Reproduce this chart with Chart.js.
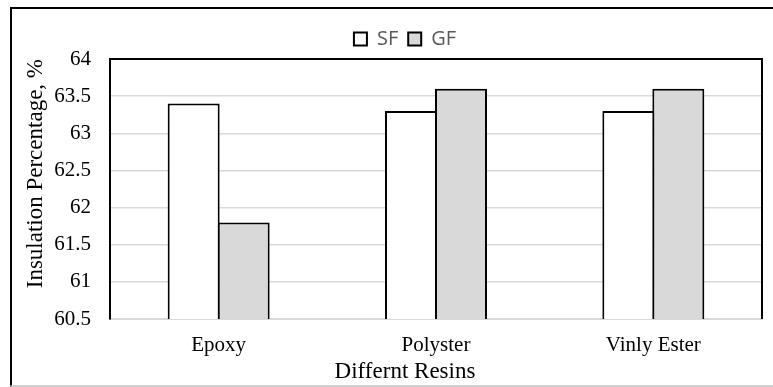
<!DOCTYPE html>
<html>
<head>
<meta charset="utf-8">
<script src="https://cdn.jsdelivr.net/npm/chart.js@4/dist/chart.umd.min.js"></script>
<style>
  html, body { margin: 0; padding: 0; background: #ffffff; }
  #wrap { width: 773px; height: 387px; position: relative; }
</style>
</head>
<body>
<div id="wrap"><canvas id="chart" width="773" height="387"></canvas></div>
<script>
// Insulation percentage by resin type, for SF and GF reinforcement
const categories = ['Epoxy', 'Polyster', 'Vinly Ester'];
const seriesNames = ['SF', 'GF'];
const sfValues = [63.4, 63.3, 63.3];
const gfValues = [61.8, 63.6, 63.6];
const yMin = 60.5;
const yMax = 64;
const yStep = 0.5;
const xTitle = 'Differnt Resins';
const yTitle = 'Insulation Percentage, %';

const serif = "'Liberation Serif', 'Times New Roman', serif";

// Frame lines: plot-area top/right edges and the outer chart border
const framePlugin = {
  id: 'frameLines',
  afterDraw(chart) {
    const { ctx, chartArea: a } = chart;
    ctx.save();
    ctx.lineCap = 'square';
    ctx.strokeStyle = '#000000';
    ctx.lineWidth = 2;
    ctx.beginPath();
    ctx.moveTo(a.left, a.top);
    ctx.lineTo(a.right, a.top);
    ctx.lineTo(a.right, a.bottom - 1);
    ctx.stroke();
    // outer border
    ctx.beginPath();
    ctx.moveTo(11, chart.height);
    ctx.lineTo(11, 8);
    ctx.lineTo(chart.width, 8);
    ctx.stroke();
    ctx.strokeStyle = '#bfbfbf';
    ctx.lineWidth = 1.5;
    ctx.beginPath();
    ctx.moveTo(11, 386);
    ctx.lineTo(chart.width, 386);
    ctx.stroke();
    ctx.restore();
  }
};

new Chart(document.getElementById('chart'), {
  type: 'bar',
  data: {
    labels: categories,
    datasets: [
      {
        label: seriesNames[0],
        data: sfValues,
        backgroundColor: '#ffffff',
        borderColor: '#000000',
        borderWidth: 2
      },
      {
        label: seriesNames[1],
        data: gfValues,
        backgroundColor: '#d9d9d9',
        borderColor: '#000000',
        borderWidth: 2
      }
    ]
  },
  options: {
    responsive: false,
    animation: false,
    events: [],
    categoryPercentage: 0.46,
    barPercentage: 1.04,
    layout: { padding: { top: 19, left: 48, right: 11, bottom: 1 } },
    plugins: {
      legend: {
        position: 'top',
        labels: {
          boxWidth: 13,
          boxHeight: 13,
          padding: 10,
          color: '#595959',
          font: { family: "'Open Sans', sans-serif", size: 20 }
        }
      },
      title: {
        display: true,
        position: 'bottom',
        text: xTitle,
        color: '#000000',
        padding: 0,
        font: { family: serif, size: 23, weight: 'normal' }
      },
      tooltip: { enabled: false }
    },
    scales: {
      x: {
        grid: { display: false, drawTicks: false },
        border: { display: true, color: '#d9d9d9', width: 2 },
        ticks: {
          color: '#000000',
          padding: 14,
          font: { family: serif, size: 21 }
        },
        afterFit(scale) { scale.height = 39.4; }
      },
      y: {
        min: yMin,
        max: yMax,
        grid: { color: '#d9d9d9', lineWidth: 1.5, drawTicks: false },
        border: { display: true, color: '#000000', width: 2 },
        ticks: {
          stepSize: yStep,
          color: '#000000',
          padding: 19,
          font: { family: serif, size: 21 },
          callback: (value) => String(Math.round(value * 10) / 10)
        },
        title: {
          display: true,
          text: yTitle,
          align: 'end',
          color: '#000000',
          padding: { top: -26, bottom: 0 },
          font: { family: serif, size: 23, weight: 'normal' }
        },
        afterFit(scale) { scale.width = 62; }
      }
    }
  },
  plugins: [framePlugin]
});
</script>
</body>
</html>
